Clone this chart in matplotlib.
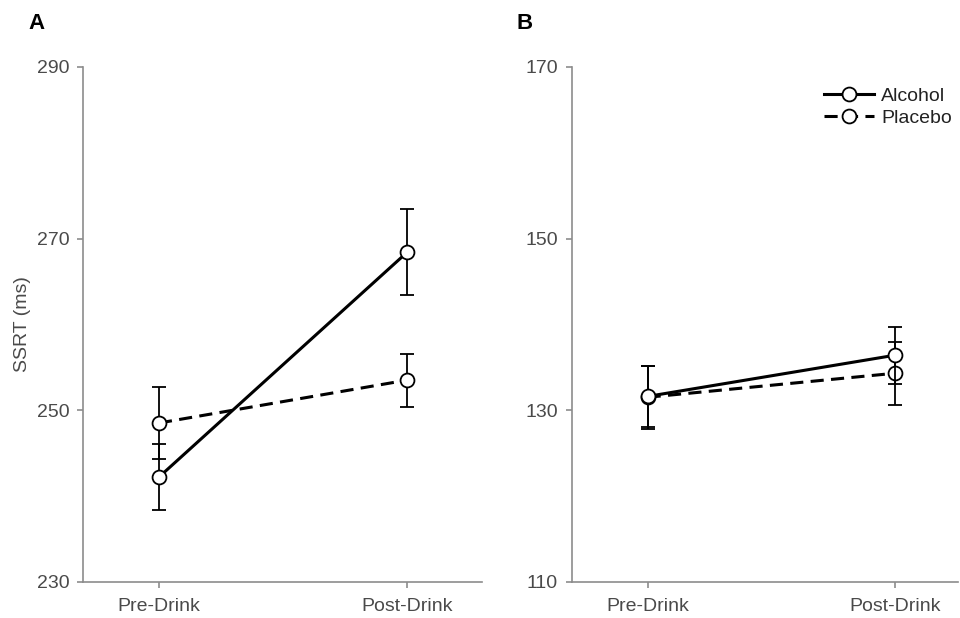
import matplotlib.pyplot as plt
from matplotlib.lines import Line2D

plt.rcParams['font.family'] = ['Liberation Sans', 'DejaVu Sans']

conditions = ["Pre-Drink", "Post-Drink"]

# panel A (SSRT, ms)
a_alcohol = [242.2, 268.4]
a_alcohol_err = [3.8, 5.0]
a_placebo = [248.5, 253.5]
a_placebo_err = [4.2, 3.1]

# panel B
b_alcohol = [131.6, 136.4]
b_alcohol_err = [3.6, 3.3]
b_placebo = [131.5, 134.3]
b_placebo_err = [3.7, 3.7]

grey = '#8c8c8c'
text_grey = '#4a4a4a'
dash = (4.3, 2.4)
mk = dict(marker='o', ms=10, mfc='white', mec='black', mew=1.3)

fig = plt.figure(figsize=(9.6, 6.18), dpi=100)
axA = fig.add_axes([0.0865, 0.0587, 0.4156, 0.8329])
axB = fig.add_axes([0.5958, 0.0587, 0.4020, 0.8329])


def draw(ax, alc, alc_err, pla, pla_err, ylim, yticks, xlim):
    x = list(range(len(conditions)))
    ax.errorbar(x, pla, yerr=pla_err, color='black', lw=2.2, dashes=dash,
                ecolor='black', elinewidth=1.3, capsize=5, capthick=1.3,
                zorder=3, **mk)
    ax.errorbar(x, alc, yerr=alc_err, color='black', lw=2.2,
                ecolor='black', elinewidth=1.3, capsize=5, capthick=1.3,
                zorder=4, **mk)
    ax.set_xlim(*xlim)
    ax.set_ylim(*ylim)
    ax.set_yticks(yticks)
    ax.set_xticks(x)
    ax.set_xticklabels(conditions)
    for s in ['top', 'right']:
        ax.spines[s].set_visible(False)
    for s in ['left', 'bottom']:
        ax.spines[s].set_color(grey)
        ax.spines[s].set_linewidth(1.2)
    ax.tick_params(axis='both', colors=grey, labelcolor=text_grey,
                   labelsize=14, length=4, width=1.2)
    ax.tick_params(axis='x', pad=8)
    ax.tick_params(axis='y', pad=6)


draw(axA, a_alcohol, a_alcohol_err, a_placebo, a_placebo_err,
     (230, 290), [230, 250, 270, 290], (-0.306, 1.302))
draw(axB, b_alcohol, b_alcohol_err, b_placebo, b_placebo_err,
     (110, 170), [110, 130, 150, 170], (-0.306, 1.255))

axA.set_ylabel("SSRT (ms)", fontsize=14, color=text_grey, labelpad=4)

handles = [Line2D([], [], color='black', lw=2.2, **mk),
           Line2D([], [], color='black', lw=2.2, dashes=dash, **mk)]
leg = axB.legend(handles, ['Alcohol', 'Placebo'], loc='upper right',
                 frameon=False, fontsize=14, handlelength=2.6,
                 handletextpad=0.35, labelspacing=0.25,
                 bbox_to_anchor=(1.03, 0.995))
for t in leg.get_texts():
    t.set_color('#222222')

fig.text(28 / 960, 1 - 29 / 618, "A", fontsize=16, fontweight='bold')
fig.text(517 / 960, 1 - 29 / 618, "B", fontsize=16, fontweight='bold')

fig.savefig("out.png", dpi=100)
